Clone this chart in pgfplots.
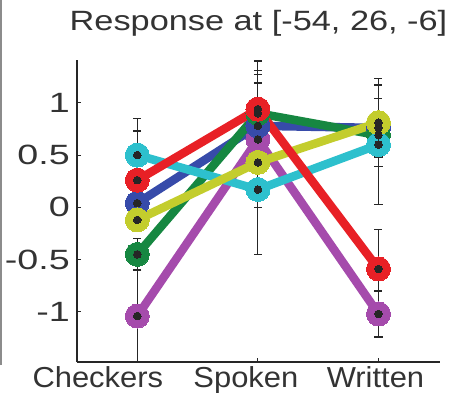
\documentclass[border=0pt]{standalone}
\usepackage{pgfplots}
\usepackage{pgfplotstable}
\pgfplotsset{compat=1.18}
\usepackage{fontspec}
\setmainfont{Liberation Sans}[FakeStretch=1.07]
\newfontfamily\wide{Liberation Sans}[FakeStretch=1.35]
\newfontfamily\tfont{Liberation Sans}[FakeStretch=1.23]

\definecolor{cRed}{RGB}{232,32,38}
\definecolor{cGreen}{RGB}{22,135,65}
\definecolor{cBlue}{RGB}{55,75,170}
\definecolor{cCyan}{RGB}{45,192,205}
\definecolor{cYellow}{RGB}{195,205,45}
\definecolor{cPurple}{RGB}{165,75,172}

\pgfplotstableread{
x y e
0 0.26 0.47
1 0.94 0.46
2 -0.59 0.38
}\tRed
\pgfplotstableread{
x y e
0 -0.45 0.15
1 0.90 0.37
2 0.69 0.20
}\tGreen
\pgfplotstableread{
x y e
0 0.04 0.12
1 0.78 0.41
2 0.76 0.28
}\tBlue
\pgfplotstableread{
x y e
0 -1.04 0.55
1 0.65 0.30
2 -1.02 0.22
}\tPurple
\pgfplotstableread{
x y e
0 -0.12 0.10
1 0.43 0.88
2 0.81 0.42
}\tYellow
\pgfplotstableread{
x y e
0 0.50 0.35
1 0.17 0.17
2 0.60 0.57
}\tCyan

\begin{document}
\begin{tikzpicture}
\begin{axis}[
  name=ax,
  scale only axis,
  width=363bp, height=302bp,
  xmin=-0.5, xmax=2.51,
  ymin=-1.48, ymax=1.41,
  axis x line*=bottom, axis y line*=left,
  axis line style={line width=1.2bp, black!85},
  xtick={0,1,2},
  xticklabels={Checkers\hspace*{79bp}, Spoken\hspace*{24bp}, Written\hspace*{6bp}},
  ytick={-1,-0.5,0,0.5,1},
  yticklabels={-1,-0.5,0,0.5,1},
  tick align=inside,
  major tick length=4bp,
  tick style={line width=1.1bp, black!85},
  xticklabel style={font=\fontsize{29}{31}\selectfont, anchor=base, inner sep=0pt, yshift=-25.5bp, text=black!80},
  yticklabel style={font=\wide\fontsize{28}{30}\selectfont, anchor=east, inner sep=0pt, xshift=-7bp, text=black!80},
  title={Response at [-54, 26, -6]},
  title style={font=\tfont\fontsize{28}{30}\selectfont, anchor=base, at={(0.5,1)}, yshift=24bp, inner sep=0pt, text=black!80},
  every axis plot/.append style={line width=8.5bp},
]
\addplot[cPurple, mark=*, mark size=12bp, mark options={line width=0pt, fill=cPurple, draw=cPurple}] table[x=x,y=y] {\tPurple};
\addplot[cBlue, mark=*, mark size=12bp, mark options={line width=0pt, fill=cBlue, draw=cBlue}] table[x=x,y=y] {\tBlue};
\addplot[cGreen, mark=*, mark size=12bp, mark options={line width=0pt, fill=cGreen, draw=cGreen}] table[x=x,y=y] {\tGreen};
\addplot[cCyan, mark=*, mark size=12bp, mark options={line width=0pt, fill=cCyan, draw=cCyan}] table[x=x,y=y] {\tCyan};
\addplot[cYellow, mark=*, mark size=12bp, mark options={line width=0pt, fill=cYellow, draw=cYellow}] table[x=x,y=y] {\tYellow};
\addplot[cRed, mark=*, mark size=12bp, mark options={line width=0pt, fill=cRed, draw=cRed}] table[x=x,y=y] {\tRed};

\pgfplotsset{errstyle/.style={draw=none, mark=none, forget plot,
  error bars/.cd, y dir=both, y explicit,
  error bar style={line width=1.2bp, black!85, solid},
  error mark options={line width=1.2bp, black!85, mark size=4bp, rotate=90}}}
\addplot[errstyle] table[x=x,y=y,y error=e] {\tPurple};
\addplot[errstyle] table[x=x,y=y,y error=e] {\tBlue};
\addplot[errstyle] table[x=x,y=y,y error=e] {\tGreen};
\addplot[errstyle] table[x=x,y=y,y error=e] {\tCyan};
\addplot[errstyle] table[x=x,y=y,y error=e] {\tYellow};
\addplot[errstyle] table[x=x,y=y,y error=e] {\tRed};

\pgfplotsset{dotstyle/.style={only marks, mark=*, mark size=3.8bp, line width=0pt, black!90, mark options={fill=black!85, draw=black!85}}}
\addplot[dotstyle] table[x=x,y=y] {\tPurple};
\addplot[dotstyle] table[x=x,y=y] {\tBlue};
\addplot[dotstyle] table[x=x,y=y] {\tGreen};
\addplot[dotstyle] table[x=x,y=y] {\tCyan};
\addplot[dotstyle] table[x=x,y=y] {\tYellow};
\addplot[dotstyle] table[x=x,y=y] {\tRed};
\end{axis}
\draw[black!45, line width=1.2bp] ([shift={(-76bp,-3bp)}]ax.south west) -- ++(0,365bp);
\pgfresetboundingbox
\path[use as bounding box] ([shift={(-77bp,-32bp)}]ax.south west) rectangle ++(452bp,394bp);
\end{tikzpicture}
\end{document}
